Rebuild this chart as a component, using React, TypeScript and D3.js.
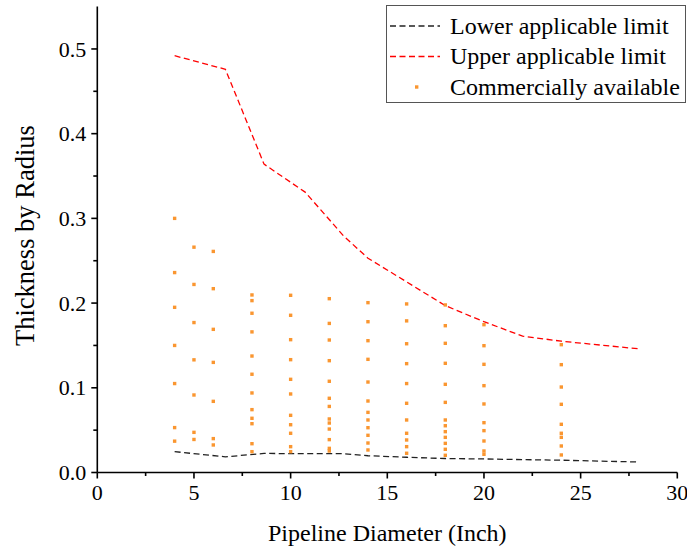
import React from "react";
import * as d3 from "d3";

// ---- data ----
const limitDiameters = [4, 6.625, 8.625, 10.75, 12.75, 14, 16, 18, 20, 22, 24, 28];
const upperLimit = [0.492, 0.476, 0.364, 0.331, 0.279, 0.253, 0.225, 0.197, 0.178, 0.161, 0.155, 0.146];
const lowerLimit = [0.0246, 0.0185, 0.0225, 0.0222, 0.0222, 0.0198, 0.018, 0.0165, 0.016, 0.0152, 0.0145, 0.0124];

const availableDiameters = [4, 5, 6, 8, 10, 12, 14, 16, 18, 20, 24];
const ratiosD4 = [0.3, 0.236, 0.195, 0.15, 0.105, 0.053, 0.037];
const ratiosD5 = [0.266, 0.222, 0.177, 0.133, 0.0915, 0.0474, 0.039];
const ratiosD6 = [0.261, 0.217, 0.169, 0.13, 0.084, 0.04, 0.0325];
const ratiosD8 = [0.2096, 0.2029, 0.188, 0.166, 0.1375, 0.116, 0.0939, 0.0742, 0.064, 0.0576, 0.034, 0.0246];
const ratiosD10 = [0.2092, 0.1856, 0.1568, 0.1332, 0.11, 0.0927, 0.0675, 0.0564, 0.0463, 0.0305, 0.0246];
const ratiosD12 = [0.2052, 0.176, 0.1564, 0.132, 0.1077, 0.0876, 0.078, 0.0632, 0.0584, 0.0513, 0.0388, 0.0285, 0.0254];
const ratiosD14 = [0.2005, 0.178, 0.1556, 0.1336, 0.1068, 0.0844, 0.071, 0.062, 0.0529, 0.0439, 0.0348, 0.0266];
const ratiosD16 = [0.199, 0.179, 0.152, 0.1285, 0.105, 0.0817, 0.062, 0.0463, 0.0384, 0.0305, 0.0227];
const ratiosD18 = [0.1978, 0.1733, 0.1525, 0.1289, 0.1041, 0.0828, 0.062, 0.0552, 0.0482, 0.0415, 0.0344, 0.0274, 0.0203];
const ratiosD20 = [0.1745, 0.1497, 0.1277, 0.1025, 0.0809, 0.0588, 0.0494, 0.0372, 0.0254, 0.0215];
const ratiosD24 = [0.1509, 0.1273, 0.1009, 0.0805, 0.0569, 0.0463, 0.0415, 0.0313, 0.0207];
const availableRatios = [ratiosD4, ratiosD5, ratiosD6, ratiosD8, ratiosD10, ratiosD12, ratiosD14, ratiosD16, ratiosD18, ratiosD20, ratiosD24];

const xMajorTicks = [0, 5, 10, 15, 20, 25, 30];
const xMinorTicks = [2.5, 7.5, 12.5, 17.5, 22.5, 27.5];
const yMajorTicks = [0, 0.1, 0.2, 0.3, 0.4, 0.5];
const yMinorTicks = [0.05, 0.15, 0.25, 0.35, 0.45];

const legendLabels = ["Lower applicable limit", "Upper applicable limit", "Commercially available"];

const W = 687;
const H = 549;
const FONT = "'Liberation Serif', 'Times New Roman', serif";
const ORANGE = "#fa9630";

export default function App() {
  const x = d3.scaleLinear().domain([0, 30]).range([97.3, 677.3]);
  const y = d3.scaleLinear().domain([0, 0.55]).range([472.5, 6.6]);

  const line = d3
    .line<number>()
    .x((_, i) => x(limitDiameters[i]))
    .y((d) => y(d));

  const points: { d: number; r: number }[] = [];
  availableDiameters.forEach((d, i) => availableRatios[i].forEach((r) => points.push({ d, r })));

  const x0 = x(0);
  const y0 = y(0);
  const ms = 3.4;
  const ts = { fontFamily: FONT };

  return (
    <div style={{ position: "absolute", left: 0, top: 0 }}>
      <svg width={W} height={H} style={{ display: "block", background: "#fff" }}>
        {/* limit lines */}
        <path d={line(lowerLimit) || ""} fill="none" stroke="#222" strokeWidth={1.3} strokeDasharray="6,3.5" />
        <path d={line(upperLimit) || ""} fill="none" stroke="#ff0000" strokeWidth={1.3} strokeDasharray="6,3.5" />

        {/* points */}
        {points.map((p, i) => (
          <rect key={i} x={x(p.d) - ms / 2} y={y(p.r) - ms / 2} width={ms} height={ms} fill={ORANGE} />
        ))}

        {/* axes */}
        <line x1={x0} x2={x(30)} y1={y0} y2={y0} stroke="#000" strokeWidth={1.6} />
        <line x1={x0} x2={x0} y1={y0} y2={y(0.55)} stroke="#000" strokeWidth={1.6} />
        {xMajorTicks.map((t) => (
          <g key={"xm" + t}>
            <line x1={x(t)} x2={x(t)} y1={y0} y2={y0 + 6} stroke="#000" strokeWidth={1.6} />
            <text x={x(t)} y={y0 + 27} fontSize={22} textAnchor="middle" fill="#000" style={ts}>
              {t}
            </text>
          </g>
        ))}
        {xMinorTicks.map((t) => (
          <line key={"xn" + t} x1={x(t)} x2={x(t)} y1={y0} y2={y0 + 3.5} stroke="#000" strokeWidth={1.6} />
        ))}
        {yMajorTicks.map((t) => (
          <g key={"ym" + t}>
            <line x1={x0 - 6} x2={x0} y1={y(t)} y2={y(t)} stroke="#000" strokeWidth={1.6} />
            <text x={x0 - 11} y={y(t)} dy="0.35em" fontSize={22} textAnchor="end" fill="#000" style={ts}>
              {t.toFixed(1)}
            </text>
          </g>
        ))}
        {yMinorTicks.map((t) => (
          <line key={"yn" + t} x1={x0 - 4} x2={x0} y1={y(t)} y2={y(t)} stroke="#000" strokeWidth={1.6} />
        ))}

        {/* axis titles */}
        <text x={(x(0) + x(30)) / 2} y={541} fontSize={24} textAnchor="middle" fill="#000" style={ts}>
          Pipeline Diameter (Inch)
        </text>
        <text
          transform={`translate(34, ${(y(0) + y(0.55)) / 2 - 4}) rotate(-90)`}
          fontSize={26.5}
          textAnchor="middle"
          fill="#000"
          style={ts}
        >
          Thickness by Radius
        </text>

        {/* legend */}
        <rect x={386.5} y={5.5} width={299} height={97} fill="#fff" stroke="#555" strokeWidth={1} />
        <line x1={390} x2={440} y1={26} y2={26} stroke="#222" strokeWidth={1.3} strokeDasharray="6,3.5" />
        <line x1={390} x2={440} y1={56.5} y2={56.5} stroke="#ff0000" strokeWidth={1.3} strokeDasharray="6,3.5" />
        <rect x={416.7 - ms / 2} y={87 - ms / 2} width={ms} height={ms} fill={ORANGE} />
        {legendLabels.map((l, i) => (
          <text key={l} x={450} y={26 + i * 30.5} dy="0.33em" fontSize={24} fill="#000" style={ts}>
            {l}
          </text>
        ))}
      </svg>
    </div>
  );
}
